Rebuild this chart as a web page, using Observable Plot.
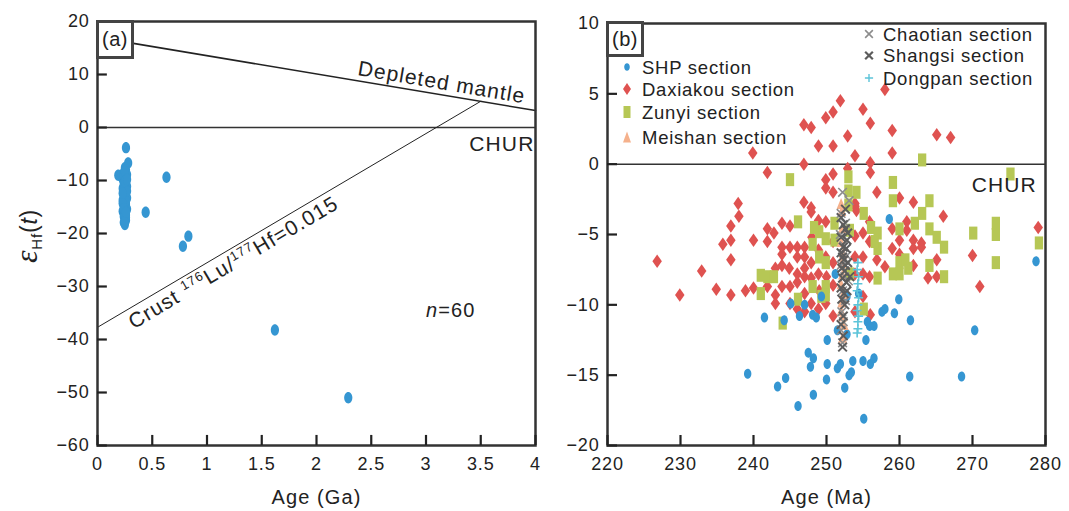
<!DOCTYPE html>
<html><head><meta charset="utf-8">
<script src="https://cdn.jsdelivr.net/npm/d3@7"></script>
<script src="https://cdn.jsdelivr.net/npm/@observablehq/plot@0.6"></script>
<style>
body{margin:0;background:#fff;}
#wrap{position:relative;width:1069px;height:511px;overflow:hidden;font-family:"Liberation Sans",Arial,Helvetica,sans-serif;}
#wrap svg{position:absolute;top:0;}
#wrap svg text{letter-spacing:0.8px;}
.tag{position:absolute;box-sizing:border-box;border:3px solid #444;background:#fff;font-size:20px;color:#222;display:flex;align-items:center;justify-content:center;letter-spacing:0.5px;}
</style></head><body><div id="wrap"></div>
<script>
// ---------- Panel (a) data ----------
const xTicksA = [0, 0.5, 1, 1.5, 2, 2.5, 3, 3.5, 4];
const yTicksA = [20, 10, 0, -10, -20, -30, -40, -50, -60];
const dmLine = [{age: 0, e: 17.0}, {age: 4, e: 3.2}];
const crustLine = [{age: 0, e: -37.7}, {age: 3.5, e: 4.95}];
const shpA = [
  [0.26,-3.8],[0.28,-6.7],[0.19,-9.0],[0.63,-9.4],[0.44,-16.0],[0.83,-20.5],[0.78,-22.4],[1.62,-38.2],[2.29,-51.0],
  [0.25,-7.6],[0.26,-8.0],[0.24,-8.5],[0.27,-8.9],[0.25,-9.3],[0.23,-9.7],[0.26,-10.0],[0.24,-10.4],[0.25,-10.8],[0.27,-11.1],
  [0.23,-11.5],[0.25,-11.9],[0.26,-12.2],[0.24,-12.6],[0.25,-13.0],[0.27,-13.3],[0.23,-13.7],[0.25,-14.0],[0.26,-14.4],[0.24,-14.7],
  [0.25,-15.1],[0.27,-15.4],[0.23,-15.8],[0.25,-16.1],[0.26,-16.5],[0.24,-16.8],[0.25,-17.2],[0.26,-17.5],[0.24,-17.9],[0.25,-18.3],
  [0.24,-9.0],[0.26,-11.4],[0.25,-12.8],[0.24,-13.4],[0.26,-14.9],[0.25,-15.6],[0.24,-10.9],[0.26,-9.5],[0.25,-16.6],[0.24,-11.8],
  [0.26,-13.8],[0.25,-8.3],[0.27,-12.0],[0.23,-14.3],[0.26,-17.0],[0.24,-15.3],[0.25,-10.2],[0.23,-12.4],[0.27,-9.8],[0.25,-17.8],[0.26,-16.0]
];
const annotA = {
  dm: {age: 2.37, e: 9.9, text: "Depleted mantle"},
  chur: {age: 3.99, e: -4.4, text: "CHUR"},
  crust: {age: 0.33, e: -38.1, text: "Crust 176Lu/177Hf=0.015"},
  n: {age: 3.0, e: -35.8, text: "n=60"}
};
// inner tick length expressed in data units of each axis (about 10 px)
const tickLenA = {x: 0.09, y: 1.9};

// ---------- Panel (b) data ----------
const xTicksB = [220, 230, 240, 250, 260, 270, 280];
const yTicksB = [10, 5, 0, -5, -10, -15, -20];
const tickLenB = {x: 1.37, y: 0.71};
const shpB = [
  [239.2,-14.9],[241.5,-10.9],[243.3,-15.8],[244.4,-15.2],[244.2,-11.1],[245.1,-9.9],[246.1,-17.2],[246.3,-10.8],[247.0,-10.0],[247.5,-13.4],
  [247.8,-14.4],[248.2,-13.8],[248.2,-16.4],[248.1,-10.7],[248.6,-10.9],[249.3,-9.4],[250.0,-15.3],[250.1,-14.2],[250.1,-12.5],[251.2,-7.8],
  [251.5,-11.8],[251.5,-14.5],[251.9,-14.2],[252.5,-15.9],[252.8,-12.1],[252.8,-9.4],[253.1,-15.0],[253.4,-14.8],[253.6,-14.0],[254.4,-9.2],
  [255.1,-18.1],[255.0,-14.0],[255.4,-12.5],[255.6,-11.2],[256.0,-14.2],[256.5,-13.8],[256.5,-11.5],[255.9,-11.5],[257.6,-10.5],[258.0,-10.3],
  [258.6,-3.9],[259.3,-10.6],[259.9,-9.6],[261.4,-15.1],[261.5,-11.1],[268.5,-15.1],[270.3,-11.8],[278.7,-6.9]
];
const daxiakou = [
  [258.0,5.3],[251.9,4.5],[255.0,3.9],[250.9,3.7],[249.9,3.3],[256.0,2.9],[246.9,2.8],[247.9,2.6],[259.0,2.4],[252.9,2.0],
  [265.1,2.1],[267.0,1.9],[248.9,1.3],[250.9,1.3],[239.9,0.8],[253.9,0.6],[259.0,0.8],[246.9,0.0],[256.0,0.1],[252.9,-0.3],
  [241.9,-0.6],[256.0,-0.6],[250.9,-0.7],[249.9,-1.1],[249.9,-1.7],[250.9,-2.0],[256.9,-2.0],[260.0,-2.4],[261.9,-2.7],[237.9,-2.8],
  [246.9,-2.7],[247.9,-3.1],[253.9,-2.8],
  [226.8,-6.9],[229.9,-9.3],[232.9,-7.6],[234.9,-8.9],[235.8,-5.7],[236.9,-4.4],[236.9,-5.4],[236.9,-6.8],[236.9,-9.3],[238.0,-3.7],
  [238.9,-9.0],[240.0,-5.4],[240.0,-8.8],[241.9,-4.6],[241.9,-5.5],[241.9,-8.7],[242.8,-4.9],[243.0,-7.4],[243.0,-9.3],[243.0,-9.9],
  [243.9,-4.2],[243.9,-5.9],[243.9,-6.4],[243.9,-7.2],[243.9,-8.7],[245.0,-5.9],[245.0,-8.7],[245.0,-9.9],[246.0,-5.9],[246.0,-6.6],
  [246.0,-8.4],[246.0,-10.3],[247.0,-5.9],[247.0,-6.6],[247.0,-7.4],[247.0,-8.0],[247.0,-9.2],[247.0,-10.5],[247.9,-3.4],[247.9,-7.0],
  [247.9,-8.1],[247.9,-9.9],[248.9,-4.0],[248.9,-6.1],[248.9,-7.8],[248.9,-10.3],[249.9,-4.1],[249.9,-6.6],[249.9,-9.9],[250.9,-5.5],
  [250.9,-10.8],[253.9,-3.0],[253.9,-5.1],[253.9,-6.6],[253.9,-7.8],[253.9,-10.5],[255.0,-4.9],[255.0,-6.6],[255.0,-7.8],[255.0,-9.4],
  [255.9,-4.1],[255.9,-5.5],[255.9,-8.0],[256.0,-10.7],[256.9,-6.8],[258.0,-7.3],[259.0,-4.6],[259.0,-6.0],[260.0,-5.4],[260.0,-6.4],
  [261.0,-4.1],[261.0,-4.7],[261.9,-5.4],[261.9,-6.0],[261.9,-7.2],[263.0,-5.6],[263.0,-5.9],[263.9,-8.1],[265.1,-6.8],[265.1,-8.0],
  [266.0,-3.7],[270.0,-6.5],[271.0,-8.7],[279.0,-4.5],[254.1,-3.3],
  [244.9,-7.4],[246.0,-7.8],[248.0,-5.2],[249.0,-9.0],[250.0,-8.0],[250.9,-7.0],[250.9,-8.6],[245.0,-4.4]
];
const zunyi = [
  [245.0,-1.1],[263.1,0.3],[275.2,-0.7],[253.0,-0.9],[253.0,-1.9],[253.0,-2.9],[254.1,-2.0],[259.1,-1.3],[259.1,-2.6],[264.1,-2.6],
  [263.1,-3.5],[262.1,-4.2],[264.1,-4.6],[265.1,-5.2],[266.1,-5.9],[270.1,-4.9],[273.2,-4.2],[273.2,-5.0],[279.1,-5.6],[246.1,-4.1],
  [249.0,-4.8],[249.9,-5.3],[248.1,-5.7],[249.0,-6.6],[249.9,-7.0],[248.1,-8.7],[249.9,-8.7],[249.9,-9.3],[246.1,-9.6],[244.0,-11.3],
  [241.0,-7.9],[241.0,-9.2],[241.9,-8.0],[242.8,-8.0],[251.1,-4.2],[251.1,-5.4],[253.2,-4.7],[253.2,-7.8],[255.1,-3.5],[255.1,-10.3],
  [256.1,-4.5],[257.0,-4.9],[257.0,-6.0],[257.0,-8.1],[259.1,-7.8],[260.0,-7.0],[260.0,-7.8],[260.0,-4.6],[261.2,-7.4],[260.8,-6.8],
  [264.1,-7.2],[266.1,-8.0],[273.2,-7.0],[249.3,-9.4],[248.3,-4.5],[256.6,-5.5]
];
const meishan = [
  [252.0,-2.8],[252.1,-3.3],[252.2,-4.5],[252.0,-5.5],[252.3,-6.3],[252.1,-7.0],[252.2,-7.8],[252.0,-8.5],[252.3,-9.2],[252.1,-9.8],
  [252.0,-10.4],[252.2,-10.8],[252.4,-11.4],[252.2,-12.3]
];
const chaotian = [
  [252.2,-2.0],[253.1,-2.6],[252.0,-3.5],[252.6,-4.2],[251.9,-5.0],[252.4,-5.8],[252.8,-6.5],[252.0,-7.2],[252.5,-8.0],[253.0,-8.3],
  [252.2,-9.0],[252.6,-9.7],[252.1,-10.5],[252.3,-11.2],[252.0,-11.8],[252.2,-12.7]
];
const shangsi = [
  [252.0,-3.8],[252.3,-4.3],[252.6,-4.6],[252.0,-5.2],[252.8,-5.4],[252.3,-5.9],[252.0,-6.3],[252.7,-6.0],[252.4,-6.8],[252.1,-7.4],
  [252.9,-7.0],[252.5,-7.6],[252.2,-8.1],[252.7,-8.4],[253.2,-8.0],[252.0,-8.8],[252.4,-9.2],[252.8,-9.0],[252.1,-9.6],[252.5,-10.0],
  [252.3,-10.8],[252.0,-11.4],[252.3,-12.2],[252.2,-13.0],[252.6,-3.2],[252.9,-4.9],[252.2,-6.6],[252.6,-7.2]
];
const dongpan = [
  [254.3,-7.0],[254.2,-7.5],[254.4,-8.0],[254.3,-8.5],[254.2,-9.0],[254.4,-9.5],[254.3,-10.0],[254.2,-10.4],[254.4,-10.8],[254.3,-11.2],
  [254.3,-11.7],[254.2,-12.0]
];
const legendLeft = ["SHP section", "Daxiakou section", "Zunyi section", "Meishan section"];
const legendRight = ["Chaotian section", "Shangsi section", "Dongpan section"];
const churB = {age: 278.8, e: -1.95, text: "CHUR"};

// ---------- styling helpers ----------
const FONT = '"Liberation Sans", Arial, Helvetica, sans-serif';
const BLUE = "#3596d2", RED = "#df5250", GREEN = "#b6c755", PEACH = "#f5b18c", LGREY = "#8c8c8c", DGREY = "#5c5c5c", CYAN = "#5cc4d9";
const fmt = d => (d < 0 ? "\u2212" + (-d) : String(d));

function ellipseSym(rx, ry) { return {draw(ctx, size) { const s = Math.sqrt(size / Math.PI) / 4.5, a = rx * s, b = ry * s, k = 0.5523;
  ctx.moveTo(0, -b); ctx.bezierCurveTo(a*k, -b, a, -b*k, a, 0); ctx.bezierCurveTo(a, b*k, a*k, b, 0, b);
  ctx.bezierCurveTo(-a*k, b, -a, b*k, -a, 0); ctx.bezierCurveTo(-a, -b*k, -a*k, -b, 0, -b); ctx.closePath(); }}; }
function diamondSym(w, h) { return {draw(ctx, size) { const s = Math.sqrt(size / Math.PI) / 4.5;
  ctx.moveTo(0, -h/2*s); ctx.lineTo(w/2*s, 0); ctx.lineTo(0, h/2*s); ctx.lineTo(-w/2*s, 0); ctx.closePath(); }}; }
function rectSym(w, h) { return {draw(ctx, size) { const s = Math.sqrt(size / Math.PI) / 4.5;
  ctx.rect(-w/2*s, -h/2*s, w*s, h*s); }}; }
function triSym(w, h) { return {draw(ctx, size) { const s = Math.sqrt(size / Math.PI) / 4.5;
  ctx.moveTo(0, -h/2*s); ctx.lineTo(w/2*s, h/2*s); ctx.lineTo(-w/2*s, h/2*s); ctx.closePath(); }}; }
const ELL_A = ellipseSym(4.1, 5.7), ELL_B = ellipseSym(3.7, 5.0), DIA = diamondSym(9.5, 13.5), RECT = rectSym(8.3, 13), TRI = triSym(9, 11);

function richText(svg, plain, build) {
  d3.select(svg).selectAll("text").filter(function() { return this.textContent === plain; }).each(function() {
    const t = d3.select(this); t.text(null); build(t);
  });
}
const style = {fontFamily: FONT, fontSize: "18px", color: "#222", background: "transparent", overflow: "visible"};

// inner tick marks drawn as short rules from the bottom and left frame edges
function innerTicks(xt, yt, xDom, yDom, len) {
  return [
    Plot.ruleX(xt, {x: d => d, y1: yDom[0], y2: yDom[0] + len.y, stroke: "#222", strokeWidth: 2.2}),
    Plot.ruleY(yt, {y: d => d, x1: xDom[0], x2: xDom[0] + len.x, stroke: "#222", strokeWidth: 2.2})
  ];
}

// ---------- Panel (a) ----------
const xDomA = [0, 4], yDomA = [-60, 20];
const svgA = Plot.plot({
  width: 545, height: 511, marginLeft: 97, marginRight: 10, marginTop: 21, marginBottom: 66,
  style,
  x: {domain: xDomA},
  y: {domain: yDomA},
  marks: [
    Plot.ruleY([0], {stroke: "#333", strokeWidth: 1.5}),
    Plot.line(dmLine, {x: "age", y: "e", stroke: "#222", strokeWidth: 1.6}),
    Plot.line(crustLine, {x: "age", y: "e", stroke: "#222", strokeWidth: 1}),
    Plot.dot(shpA, {x: d => d[0], y: d => d[1], symbol: ELL_A, r: 4.5, fill: BLUE, stroke: "none"}),
    Plot.text([annotA.dm], {x: "age", y: "e", text: "text", rotate: 9.6, textAnchor: "start", lineAnchor: "bottom", fontSize: 21, fill: "#222"}),
    Plot.text([annotA.chur], {x: "age", y: "e", text: "text", textAnchor: "end", lineAnchor: "bottom", fontSize: 21, fill: "#222"}),
    Plot.text([annotA.crust], {x: "age", y: "e", text: "text", rotate: -30.6, textAnchor: "start", lineAnchor: "bottom", fontSize: 21, fill: "#222"}),
    Plot.text([annotA.n], {x: "age", y: "e", text: "text", textAnchor: "start", lineAnchor: "bottom", fontSize: 20, fill: "#222"}),
    Plot.axisX({ticks: xTicksA, tickFormat: fmt, tickSize: 0, tickPadding: 12, label: null, fontSize: 18}),
    Plot.axisY({ticks: yTicksA, tickFormat: fmt, tickSize: 0, tickPadding: 8, label: null, fontSize: 18}),
    Plot.frame({stroke: "#333", strokeWidth: 2.5}),
    ...innerTicks(xTicksA, yTicksA, xDomA, yDomA, tickLenA),
    Plot.text(["Age (Ga)"], {frameAnchor: "bottom", text: d => d, dy: 52, lineAnchor: "middle", fontSize: 20, fill: "#222"})
  ]
});
richText(svgA, annotA.crust.text, t => {
  t.append("tspan").text("Crust ");
  t.append("tspan").text("176").attr("font-size", 13).attr("dy", -8);
  t.append("tspan").text("Lu/").attr("dy", 8);
  t.append("tspan").text("177").attr("font-size", 13).attr("dy", -8);
  t.append("tspan").text("Hf=0.015").attr("dy", 8);
});
richText(svgA, annotA.n.text, t => {
  t.append("tspan").text("n").attr("font-style", "italic");
  t.append("tspan").text("=60");
});
{
  const yl = d3.select(svgA).append("text").attr("transform", "translate(37,236) rotate(-90)")
    .attr("text-anchor", "middle").attr("fill", "#222").attr("font-family", FONT);
  yl.append("tspan").text("\u03B5").attr("font-family", '"Liberation Serif", "DejaVu Serif", serif').attr("font-style", "italic").attr("font-size", 32);
  yl.append("tspan").text("Hf").attr("font-size", 15).attr("dy", 5);
  yl.append("tspan").text("(").attr("font-size", 23).attr("dy", -5);
  yl.append("tspan").text("t").attr("font-size", 23).attr("font-style", "italic");
  yl.append("tspan").text(")").attr("font-size", 23);
}

// ---------- Panel (b) ----------
const xDomB = [220, 280], yDomB = [-20, 10];
const pt = {x: d => d[0], y: d => d[1]};
const svgB = Plot.plot({
  width: 524, height: 511, marginLeft: 62, marginRight: 24, marginTop: 23, marginBottom: 66,
  style,
  x: {domain: xDomB},
  y: {domain: yDomB},
  marks: [
    Plot.ruleY([0], {stroke: "#333", strokeWidth: 1.5}),
    Plot.dot(daxiakou, {...pt, symbol: DIA, r: 4.5, fill: RED, stroke: "none"}),
    Plot.dot(zunyi, {...pt, symbol: RECT, r: 4.5, fill: GREEN, stroke: "none"}),
    Plot.dot(shpB, {...pt, symbol: ELL_B, r: 4.5, fill: BLUE, stroke: "none"}),
    Plot.dot(meishan, {...pt, symbol: TRI, r: 4.5, fill: PEACH, stroke: "none"}),
    Plot.dot(chaotian, {...pt, symbol: "times", r: 4, stroke: LGREY, strokeWidth: 1.6, fill: "none"}),
    Plot.dot(shangsi, {...pt, symbol: "times", r: 4, stroke: DGREY, strokeWidth: 2, fill: "none"}),
    Plot.dot(dongpan, {...pt, symbol: "plus", r: 3, stroke: CYAN, strokeWidth: 1.6, fill: "none"}),
    Plot.text([churB], {x: "age", y: "e", text: "text", textAnchor: "end", lineAnchor: "bottom", fontSize: 21, fill: "#222"}),
    Plot.axisX({ticks: xTicksB, tickFormat: fmt, tickSize: 0, tickPadding: 12, label: null, fontSize: 18}),
    Plot.axisY({ticks: yTicksB, tickFormat: fmt, tickSize: 0, tickPadding: 8, label: null, fontSize: 18}),
    Plot.frame({stroke: "#333", strokeWidth: 2.5}),
    ...innerTicks(xTicksB, yTicksB, xDomB, yDomB, tickLenB),
    Plot.text(["Age (Ma)"], {frameAnchor: "bottom", text: d => d, dy: 52, lineAnchor: "middle", fontSize: 20, fill: "#222"})
  ]
});
{
  const g = d3.select(svgB).append("g").attr("font-family", FONT).attr("font-size", 18.5).attr("fill", "#222").attr("text-anchor", "start");
  const leftSyms = [[ellipseSym(2.8, 3.8), BLUE], [diamondSym(8, 12), RED], [rectSym(7, 12), GREEN], [triSym(8, 11), PEACH]];
  const leftBase = [73.5, 95.5, 118.5, 143.5];
  legendLeft.forEach((label, i) => {
    g.append("path").attr("transform", `translate(82,${leftBase[i] - 6.5})`)
      .attr("d", d3.symbol(leftSyms[i][0], Math.PI * 4.5 * 4.5)()).attr("fill", leftSyms[i][1]);
    g.append("text").attr("x", 97).attr("y", leftBase[i]).attr("text-anchor", "start").style("letter-spacing", "0.75px").text(label);
  });
  const rightBase = [40.5, 62, 84.5];
  const rightSyms = [[d3.symbolTimes, LGREY, 1.6], [d3.symbolTimes, DGREY, 2.2], [d3.symbolPlus, CYAN, 1.4]];
  legendRight.forEach((label, i) => {
    g.append("path").attr("transform", `translate(324,${rightBase[i] - 6.5})`)
      .attr("d", d3.symbol(rightSyms[i][0], i === 2 ? 24 : 40)()).attr("fill", "none")
      .attr("stroke", rightSyms[i][1]).attr("stroke-width", rightSyms[i][2]);
    g.append("text").attr("x", 338).attr("y", rightBase[i]).attr("text-anchor", "start").style("letter-spacing", "0.75px").text(label);
  });
}

const wrap = document.getElementById("wrap");
svgA.style.left = "0px";
svgB.style.left = "545px";
wrap.appendChild(svgA);
wrap.appendChild(svgB);
d3.selectAll('#wrap g[aria-label="text"] text').style("letter-spacing", "1.1px");
const tagA = document.createElement("div"); tagA.className = "tag"; tagA.textContent = "(a)";
Object.assign(tagA.style, {left: "96px", top: "20px", width: "38px", height: "39px"});
const tagB = document.createElement("div"); tagB.className = "tag"; tagB.textContent = "(b)";
Object.assign(tagB.style, {left: "606px", top: "21px", width: "38px", height: "36px"});
wrap.appendChild(tagA); wrap.appendChild(tagB);
</script></body></html>
